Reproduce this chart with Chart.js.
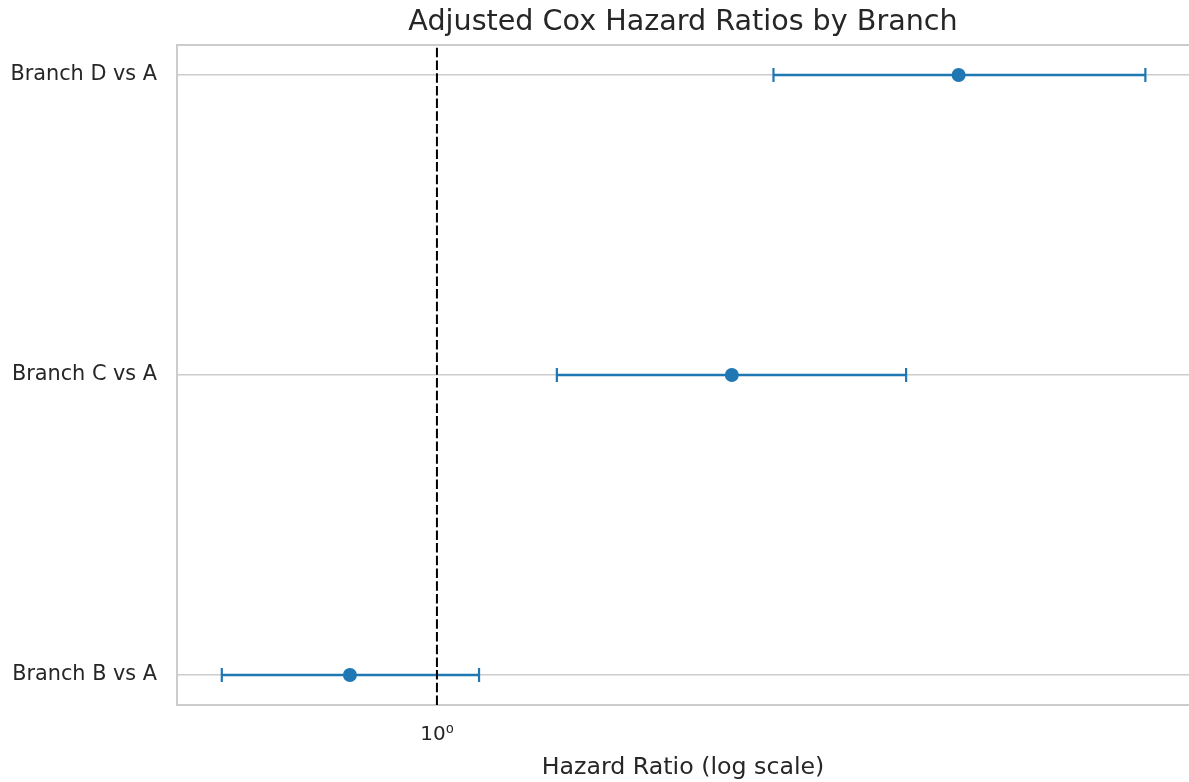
<!DOCTYPE html>
<html>
<head>
<meta charset="utf-8">
<script src="https://cdn.jsdelivr.net/npm/chart.js@4.4.0/dist/chart.umd.min.js"></script>
<style>
  html, body { margin: 0; padding: 0; background: #fff; }
  #wrap { width: 1189px; height: 782px; }
</style>
</head>
<body>
<div id="wrap"><canvas id="hrChart" width="1189" height="782"></canvas></div>
<script>
// Data
var categories = ['Branch B vs A', 'Branch C vs A', 'Branch D vs A'];
var hazardRatio = [0.80, 2.13, 3.81];
var ciLower = [0.576, 1.36, 2.37];
var ciUpper = [1.114, 3.33, 6.15];
var xTicks = [1];

var blue = '#1f77b4';
var textColor = '#262626';
var gridColor = '#cccccc';
var fontFamily = '"DejaVu Sans", Verdana, sans-serif';

// Error bar datasets (one per row)
var datasets = [];
categories.forEach(function (cat, i) {
    datasets.push({
        label: cat + ' CI',
        data: [{ x: ciLower[i], y: i }, { x: ciUpper[i], y: i }],
        showLine: true,
        borderColor: blue,
        backgroundColor: blue,
        borderWidth: 2.7,
        pointStyle: 'line',
        rotation: 90,
        pointRadius: 7,
        pointBorderWidth: 2.2,
        pointBorderColor: blue,
        order: 2
    });
});

// Point estimates
datasets.push({
    label: 'HR',
    data: hazardRatio.map(function (v, i) { return { x: v, y: i }; }),
    pointStyle: 'circle',
    pointRadius: 7,
    pointBackgroundColor: blue,
    pointBorderWidth: 0,
    showLine: false,
    order: 1
});

// Reference line at HR = 1
datasets.push({
    label: 'ref',
    data: [{ x: 1, y: -0.1 }, { x: 1, y: categories.length - 0.9 }],
    showLine: true,
    borderColor: '#000000',
    borderWidth: 2,
    borderDash: [9.5, 3.2],
    pointRadius: 0,
    order: 0
});

// Title and top frame line
var extras = {
    id: 'extras',
    afterDraw: function (chart) {
        var c = chart.ctx, a = chart.chartArea;
        c.save();
        c.strokeStyle = gridColor;
        c.lineWidth = 2;
        c.beginPath();
        c.moveTo(a.left - 1, a.top);
        c.lineTo(a.right, a.top);
        c.stroke();
        c.fillStyle = textColor;
        c.font = '28.6px ' + fontFamily;
        c.textAlign = 'center';
        c.textBaseline = 'middle';
        c.fillText('Adjusted Cox Hazard Ratios by Branch', (a.left + a.right) / 2, 23);
        c.restore();
    }
};

var ctx = document.getElementById('hrChart').getContext('2d');
var chart = new Chart(ctx, {
    type: 'scatter',
    data: { datasets: datasets },
    options: {
        responsive: false,
        animation: false,
        layout: { autoPadding: false, padding: { top: 45, right: -9, left: 0, bottom: 0 } },
        plugins: {
            legend: { display: false },
            tooltip: { enabled: false }
        },
        scales: {
            x: {
                type: 'logarithmic',
                bounds: 'data',
                min: 0.5135,
                max: 6.878,
                afterBuildTicks: function (scale) {
                    scale.ticks = xTicks.map(function (v) { return { value: v }; });
                },
                afterFit: function (scale) {
                    scale.height = 77;
                    scale.paddingLeft = 0;
                    scale.paddingRight = 0;
                },
                grid: { display: false, drawTicks: false },
                border: { display: true, color: gridColor, width: 2 },
                ticks: {
                    padding: 18,
                    color: textColor,
                    font: { family: fontFamily, size: 20 },
                    callback: function (v) { return v === 1 ? '10\u2070' : ''; }
                },
                title: {
                    display: true,
                    text: 'Hazard Ratio (log scale)',
                    color: textColor,
                    font: { family: fontFamily, size: 23.7 },
                    padding: { top: 0, bottom: 0 }
                }
            },
            y: {
                type: 'linear',
                bounds: 'data',
                min: -0.1,
                max: categories.length - 0.9,
                afterBuildTicks: function (scale) {
                    scale.ticks = categories.map(function (c, i) { return { value: i }; });
                },
                afterFit: function (scale) {
                    scale.width = 177;
                    scale.paddingTop = 0;
                    scale.paddingBottom = 0;
                },
                grid: { color: gridColor, lineWidth: 1.5, drawTicks: false },
                border: { display: true, color: gridColor, width: 2 },
                ticks: {
                    padding: 20,
                    color: textColor,
                    font: { family: fontFamily, size: 20.8 },
                    callback: function (v) { return categories[v] || ''; }
                }
            }
        }
    },
    plugins: [extras]
});
</script>
</body>
</html>
